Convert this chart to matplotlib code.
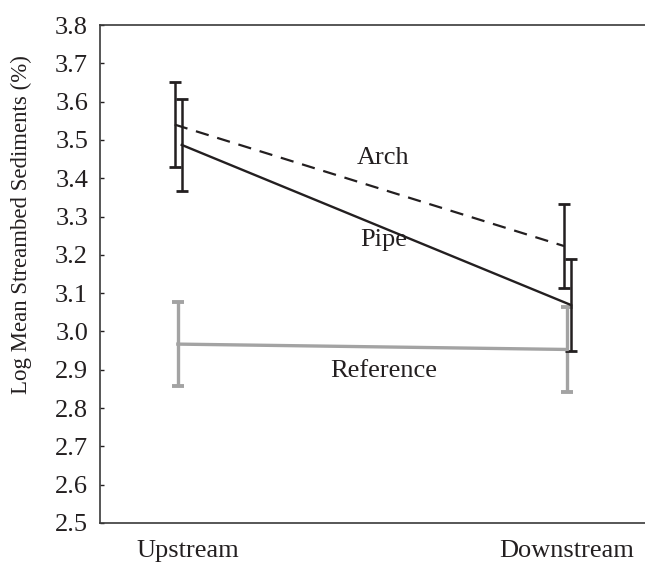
import numpy as np
import matplotlib.pyplot as plt

plt.rcParams['font.family'] = ['Liberation Serif', 'DejaVu Serif']

# sampling sites and the three crossing types
sites = ["Upstream", "Downstream"]
arch_mean = [3.54, 3.223]
arch_err = [0.11, 0.11]
pipe_mean = [3.487, 3.069]
pipe_err = [0.12, 0.12]
ref_mean = [2.967, 2.953]
ref_err = [0.11, 0.11]

x = np.arange(len(sites))

fig = plt.figure(figsize=(6.45, 5.62), dpi=100)
ax = fig.add_axes([0.155, 0.0694, 0.845, 0.8861])

ax.errorbar(x, ref_mean, yerr=ref_err, color="#a3a3a3", lw=2.4,
            capsize=4.5, capthick=2.8, elinewidth=2.4)
ax.errorbar(x - 0.008, arch_mean, yerr=arch_err, color="#231f20", lw=1.6,
            ls=(0, (6, 4)), capsize=4.5, capthick=2, elinewidth=1.8)
ax.errorbar(x + 0.01, pipe_mean, yerr=pipe_err, color="#231f20", lw=1.7,
            capsize=4.5, capthick=2, elinewidth=1.8)

ax.text(0.528, 3.453, "Arch", ha="center", va="center", fontsize=19, color="#231f20")
ax.text(0.53, 3.239, "Pipe", ha="center", va="center", fontsize=19, color="#231f20")
ax.text(0.528, 2.897, "Reference", ha="center", va="center", fontsize=19, color="#231f20")

ax.set_xlim(-0.2, 1.2)
ax.set_ylim(2.5, 3.8)
ticks = np.arange(2.5, 3.81, 0.1)
ax.set_yticks(ticks)
ax.set_yticklabels([f"{v:.1f}" for v in ticks])
ax.set_xticks([0.025, 1.0])
ax.set_xticklabels(sites)
ax.tick_params(axis="y", direction="in", length=3, width=1, pad=8.5,
               labelsize=19, colors="#231f20")
ax.tick_params(axis="x", length=0, pad=12, labelsize=19, colors="#231f20")
ax.set_ylabel("Log Mean Streambed Sediments (%)", fontsize=16.5, color="#231f20")
ax.yaxis.set_label_coords(-0.125, 0.60)

ax.spines["right"].set_visible(False)
for s in ("left", "top", "bottom"):
    ax.spines[s].set_color("#3a3a3a")
    ax.spines[s].set_linewidth(1.2)

fig.savefig("out.png", dpi=100)
